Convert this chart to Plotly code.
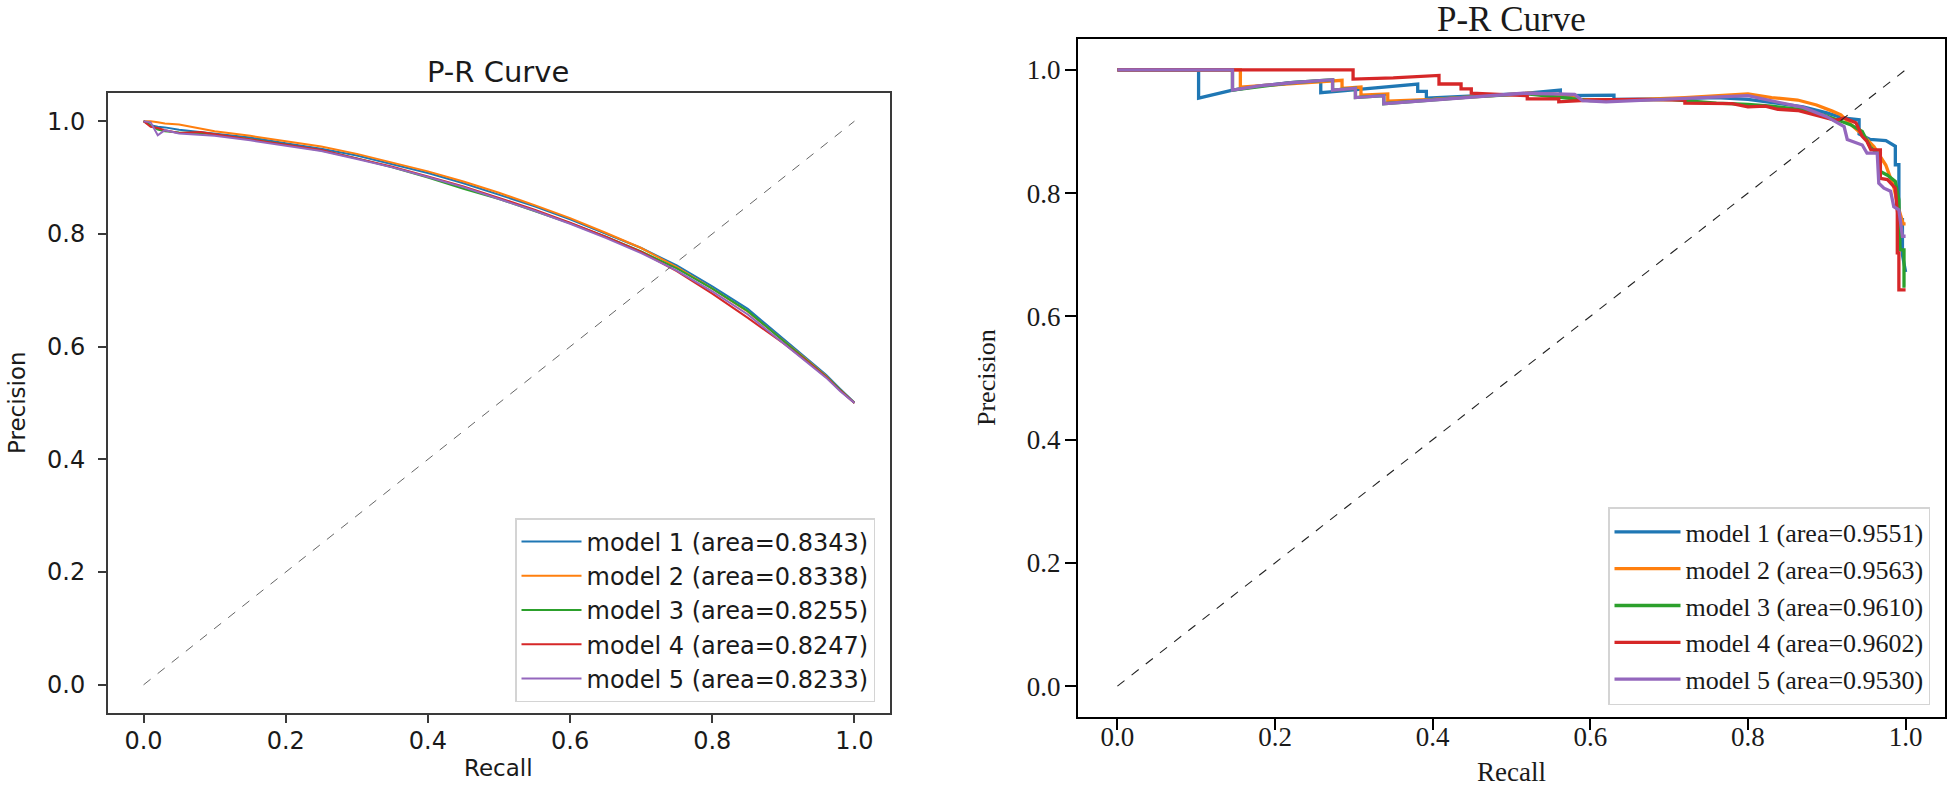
import plotly.graph_objects as go

# ---------------- data ----------------
model_names = ["model 1", "model 2", "model 3", "model 4", "model 5"]
colors = ["#1f77b4", "#ff7f0e", "#2ca02c", "#d62728", "#9467bd"]

left_areas = ["0.8343", "0.8338", "0.8255", "0.8247", "0.8233"]
right_areas = ["0.9551", "0.9563", "0.9610", "0.9602", "0.9530"]

ticks = [0.0, 0.2, 0.4, 0.6, 0.8, 1.0]
tick_text = ["0.0", "0.2", "0.4", "0.6", "0.8", "1.0"]

diag_x = [0.0, 1.0]
diag_y = [0.0, 1.0]

# left panel: shared recall grid, precision per model
left_recall = [0.0, 0.01, 0.02, 0.03, 0.05, 0.08, 0.10, 0.15, 0.20, 0.25, 0.30, 0.35, 0.40,
               0.45, 0.50, 0.55, 0.60, 0.65, 0.70, 0.75, 0.80, 0.85, 0.90, 0.93, 0.96, 0.98, 1.00]
left_p1 = [1.0, 0.993, 0.990, 0.989, 0.985, 0.981, 0.978, 0.971, 0.961, 0.951, 0.939, 0.924, 0.908,
           0.890, 0.870, 0.849, 0.826, 0.801, 0.775, 0.744, 0.707, 0.667, 0.614, 0.583, 0.550, 0.525, 0.501]
left_p2 = [1.0, 1.0, 0.998, 0.996, 0.994, 0.986, 0.982, 0.974, 0.965, 0.955, 0.942, 0.927, 0.911,
           0.893, 0.873, 0.851, 0.828, 0.802, 0.775, 0.741, 0.703, 0.662, 0.611, 0.580, 0.548, 0.523, 0.500]
left_p3 = [1.0, 0.992, 0.985, 0.982, 0.980, 0.979, 0.976, 0.968, 0.958, 0.948, 0.934, 0.918, 0.900,
           0.880, 0.862, 0.841, 0.819, 0.795, 0.769, 0.739, 0.703, 0.663, 0.610, 0.579, 0.547, 0.523, 0.500]
left_p4 = [1.0, 0.990, 0.988, 0.984, 0.979, 0.981, 0.977, 0.968, 0.958, 0.949, 0.934, 0.919, 0.902,
           0.884, 0.864, 0.843, 0.820, 0.795, 0.768, 0.734, 0.694, 0.651, 0.606, 0.577, 0.546, 0.522, 0.500]
left_p5 = [1.0, 0.998, 0.975, 0.984, 0.978, 0.976, 0.974, 0.966, 0.956, 0.947, 0.933, 0.918, 0.901,
           0.883, 0.862, 0.841, 0.818, 0.793, 0.766, 0.735, 0.698, 0.657, 0.606, 0.576, 0.545, 0.521, 0.500]

# right panel: recall / precision per model
right_r1 = [0.0, 0.103, 0.103, 0.146, 0.18, 0.22, 0.258, 0.258, 0.278, 0.33, 0.381, 0.381, 0.392, 0.392,
            0.45, 0.52, 0.562, 0.562, 0.63, 0.63, 0.70, 0.76, 0.80, 0.84, 0.87, 0.90, 0.92, 0.941, 0.941,
            0.955, 0.975, 0.987, 0.987, 0.9915, 0.9915, 0.996, 0.996, 1.0]
right_p1 = [1.0, 1.0, 0.954, 0.967, 0.974, 0.979, 0.982, 0.963, 0.965, 0.971, 0.977, 0.965, 0.965, 0.954,
            0.958, 0.962, 0.967, 0.958, 0.959, 0.952, 0.953, 0.955, 0.952, 0.945, 0.940, 0.930, 0.922, 0.919, 0.896,
            0.887, 0.885, 0.876, 0.846, 0.846, 0.757, 0.757, 0.700, 0.672]
right_r2 = [0.0, 0.156, 0.156, 0.20, 0.24, 0.285, 0.285, 0.309, 0.309, 0.343, 0.343, 0.40, 0.46, 0.52,
            0.58, 0.58, 0.65, 0.72, 0.80, 0.83, 0.863, 0.887, 0.907, 0.918, 0.93, 0.945, 0.96, 0.975,
            0.985, 0.99, 0.997, 1.0]
right_p2 = [1.0, 1.0, 0.972, 0.976, 0.980, 0.983, 0.970, 0.972, 0.959, 0.961, 0.949, 0.952, 0.957, 0.962,
            0.959, 0.952, 0.951, 0.955, 0.961, 0.955, 0.951, 0.943, 0.933, 0.927, 0.912, 0.895, 0.875, 0.845,
            0.810, 0.780, 0.750, 0.750]
right_r3 = [0.0, 0.146, 0.146, 0.22, 0.273, 0.273, 0.302, 0.302, 0.338, 0.338, 0.45, 0.52, 0.60, 0.70,
            0.76, 0.80, 0.83, 0.87, 0.90, 0.93, 0.945, 0.955, 0.968, 0.968, 0.977, 0.987, 0.9915, 0.993,
            0.998, 0.998, 1.0]
right_p3 = [1.0, 1.0, 0.967, 0.979, 0.984, 0.967, 0.970, 0.955, 0.958, 0.945, 0.956, 0.961, 0.950, 0.952,
            0.946, 0.944, 0.941, 0.935, 0.925, 0.911, 0.900, 0.875, 0.860, 0.835, 0.829, 0.819, 0.789, 0.708,
            0.708, 0.649, 0.649]
right_r4 = [0.0, 0.299, 0.299, 0.35, 0.408, 0.408, 0.436, 0.436, 0.449, 0.449, 0.52, 0.52, 0.56, 0.56,
            0.60, 0.66, 0.72, 0.72, 0.78, 0.80, 0.822, 0.838, 0.863, 0.887, 0.911, 0.922, 0.937, 0.945,
            0.951, 0.956, 0.968, 0.968, 0.977, 0.987, 0.9895, 0.9895, 0.9915, 0.9915, 1.0]
right_p4 = [1.0, 1.0, 0.985, 0.987, 0.991, 0.977, 0.977, 0.969, 0.969, 0.962, 0.958, 0.953, 0.953, 0.948,
            0.951, 0.952, 0.951, 0.946, 0.945, 0.940, 0.941, 0.936, 0.934, 0.926, 0.918, 0.922, 0.914, 0.892,
            0.884, 0.870, 0.870, 0.824, 0.822, 0.808, 0.768, 0.703, 0.703, 0.643, 0.643]
right_r5 = [0.0, 0.146, 0.146, 0.18, 0.22, 0.273, 0.273, 0.302, 0.302, 0.338, 0.338, 0.40, 0.46, 0.515,
            0.58, 0.59, 0.62, 0.68, 0.75, 0.80, 0.84, 0.87, 0.90, 0.922, 0.926, 0.945, 0.951, 0.964,
            0.966, 0.9725, 0.981, 0.985, 0.9915, 0.996, 1.0]
right_p5 = [1.0, 1.0, 0.967, 0.974, 0.979, 0.984, 0.967, 0.970, 0.955, 0.958, 0.945, 0.951, 0.957, 0.962,
            0.960, 0.950, 0.948, 0.951, 0.955, 0.958, 0.947, 0.939, 0.924, 0.908, 0.887, 0.878, 0.865, 0.865,
            0.816, 0.808, 0.803, 0.778, 0.773, 0.730, 0.730]

left_series = [left_p1, left_p2, left_p3, left_p4, left_p5]
right_series = [(right_r1, right_p1), (right_r2, right_p2), (right_r3, right_p3),
                (right_r4, right_p4), (right_r5, right_p5)]

# ---------------- figure ----------------
W, H = 1948, 790
SANS = "DejaVu Sans"
SERIF = "Liberation Serif"

fig = go.Figure()

for i in range(5):
    fig.add_trace(go.Scatter(
        x=left_recall, y=left_series[i], mode="lines",
        name=f"{model_names[i]} (area={left_areas[i]})",
        line=dict(color=colors[i], width=2),
        xaxis="x", yaxis="y", legend="legend"))
fig.add_trace(go.Scatter(x=diag_x, y=diag_y, mode="lines", showlegend=False,
                         line=dict(color="#666666", width=1, dash="dash"),
                         xaxis="x", yaxis="y"))

for i in range(5):
    r, p = right_series[i]
    fig.add_trace(go.Scatter(
        x=r, y=p, mode="lines",
        name=f"{model_names[i]} (area={right_areas[i]})",
        line=dict(color=colors[i], width=3.3),
        xaxis="x2", yaxis="y2", legend="legend2"))
fig.add_trace(go.Scatter(x=diag_x, y=diag_y, mode="lines", showlegend=False,
                         line=dict(color="#222222", width=1.1, dash="dash"),
                         xaxis="x2", yaxis="y2"))


def px_x(v):
    return v / W


def px_y(v):
    return 1 - v / H


def axis(domain, font, anchor, linecolor, ticklen, standoff, size):
    return dict(domain=domain, anchor=anchor, range=[-0.05, 1.05],
                tickvals=ticks, ticktext=tick_text, ticks="outside", ticklen=ticklen,
                tickwidth=1.6, tickcolor=linecolor, showline=True, linecolor=linecolor,
                linewidth=2, mirror=True, showgrid=False, zeroline=False,
                tickfont=dict(family=font, size=size, color="#1a1a1a"),
                ticklabelstandoff=standoff, fixedrange=True)


layout = dict(
    width=W, height=H, margin=dict(l=0, r=0, t=0, b=0),
    paper_bgcolor="white", plot_bgcolor="white", showlegend=True,
    xaxis=axis([px_x(108), px_x(890)], SANS, "y", "#3a3a3a", 8, -3, 24),
    yaxis=axis([px_y(713), px_y(93)], SANS, "x", "#3a3a3a", 8, 8, 24),
    xaxis2=axis([px_x(1078), px_x(1945)], SERIF, "y2", "#000000", 11, -16, 27),
    yaxis2=axis([px_y(717), px_y(39)], SERIF, "x2", "#000000", 11, -1, 27),
    legend=dict(x=px_x(875), y=px_y(702), xanchor="right", yanchor="bottom",
                bgcolor="rgba(255,255,255,0.85)", bordercolor="#d4d4d4", borderwidth=1.5,
                font=dict(family=SANS, size=24, color="#1a1a1a"), itemwidth=60,
                tracegroupgap=0),
    legend2=dict(x=px_x(1930), y=px_y(705), xanchor="right", yanchor="bottom",
                 bgcolor="rgba(255,255,255,0.85)", bordercolor="#d4d4d4", borderwidth=1.5,
                 font=dict(family=SERIF, size=26, color="#1a1a1a"), itemwidth=66,
                 tracegroupgap=0),
)
fig.update_layout(**layout)

annots = [
    dict(text="P-R Curve", x=px_x(498), y=px_y(72), font=dict(family=SANS, size=29, color="#1a1a1a")),
    dict(text="P-R Curve", x=px_x(1511), y=px_y(19), font=dict(family=SERIF, size=35, color="#1a1a1a")),
    dict(text="Recall", x=px_x(499), y=px_y(768), font=dict(family=SANS, size=23, color="#1a1a1a")),
    dict(text="Recall", x=px_x(1511), y=px_y(772), font=dict(family=SERIF, size=27, color="#1a1a1a")),
    dict(text="Precision", x=px_x(17), y=px_y(403), textangle=-90,
         font=dict(family=SANS, size=23, color="#1a1a1a")),
    dict(text="Precision", x=px_x(986), y=px_y(378), textangle=-90,
         font=dict(family=SERIF, size=26, color="#1a1a1a")),
]
for a in annots:
    fig.add_annotation(xref="paper", yref="paper", showarrow=False,
                       xanchor="center", yanchor="middle", **a)

fig.write_html("out.html", config={"displayModeBar": False},
               post_script="document.body.style.margin='0';")
